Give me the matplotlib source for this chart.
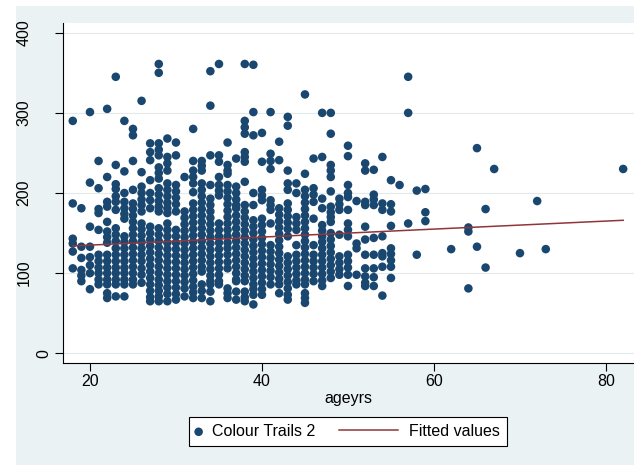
import numpy as np
import matplotlib.pyplot as plt
from matplotlib.patches import Rectangle
from matplotlib.legend_handler import HandlerPathCollection
from matplotlib.transforms import blended_transform_factory, ScaledTranslation

plt.rcParams['font.family'] = ['Liberation Sans', 'DejaVu Sans']

# one column of dots per age (years)
ages = [18, 19, 20, 21, 22, 23, 24, 25, 26, 27, 28, 29, 30, 31, 32, 33, 34,
        35, 36, 37, 38, 39, 40, 41, 42, 43, 44, 45, 46, 47, 48, 49, 50, 51,
        52, 53, 54, 55, 56, 57, 58, 59, 62, 64, 65, 66, 67, 70, 72, 73, 82]

# Colour Trails 2 values (solid bars = overlapping dots)
ct2 = [
    [290, 187, 143, 137, 127, 106],
    [181, 133, 119, 104, 97, 90],
    [301, 213, 158, 133, 120, 110, 100, 80],
    [240, 206, 180, 175, 154, 123, 115, 107, 100, 92, 86],
    [305, 220, 189, 183, 164, 152, 145, 138, 123, 115, 107, 100, 92, 86, 75, 69],
    [345, 235, 211, 205, 196, 189, 179, 156, 148, 140, 131, 123, 115, 107, 100, 92, 86, 71],
    [290, 227, 200, 189, 181, 174, 168, 146, 139, 131, 123, 115, 107, 100, 92, 86, 71],
    [280, 272, 240, 204, 187, 180, 172, 164, 156, 148, 140, 132, 124, 116, 108, 100, 92, 86],
    [315, 226, 208, 200, 192, 185, 177, 162, 155, 147, 139, 131, 123, 115, 106, 98, 88],
    [262, 251, 241, 216, 200, 191, 181, 158, 150, 142, 134, 126, 118, 110, 102, 94, 86, 78, 70, 65],
    [361, 350, 262, 254, 247, 232, 225, 218, 206, 198, 190, 183, 177, 156, 148, 140, 132, 124,
     116, 108, 100, 92, 85, 78, 71, 65],
    [268, 245, 237, 228, 212, 204, 196, 188, 181, 175, 162, 154, 146, 138, 130, 122, 114, 106,
     98, 90, 82, 74, 65],
    [263, 247, 210, 202, 194, 186, 177, 154, 146, 138, 130, 122, 114, 106, 98, 90, 82, 74, 67],
    [220, 177, 169, 161, 153, 145, 137, 129, 121, 113, 105, 97, 89, 81, 71],
    [280, 240, 228, 220, 212, 201, 187, 179, 171, 163, 155, 147, 139, 131, 123, 115, 107, 99,
     91, 83, 76, 69],
    [240, 234, 228, 212, 204, 196, 188, 180, 172, 164, 156, 148, 140, 132, 124, 116, 108, 102,
     86, 78, 69],
    [352, 309, 247, 210, 193, 185, 177, 169, 161, 153, 145, 137, 129, 121, 113, 105, 97, 90,
     86, 77, 65],
    [361, 247, 239, 220, 210, 203, 197, 162, 154, 146, 138, 130, 122, 114, 106, 98, 90, 86],
    [263, 235, 228, 224, 210, 202, 194, 186, 178, 170, 162, 154, 146, 138, 131, 123, 114, 106,
     81, 75, 69],
    [243, 208, 200, 192, 185, 181, 172, 164, 156, 148, 140, 132, 124, 116, 108, 100, 92, 90,
     77, 67],
    [361, 290, 282, 274, 251, 245, 239, 214, 185, 177, 169, 161, 153, 145, 137, 129, 121, 113,
     105, 97, 90, 77, 70, 65],
    [360, 301, 272, 200, 185, 166, 158, 150, 142, 134, 126, 118, 110, 102, 94, 86, 80, 73, 61],
    [275, 239, 204, 197, 191, 168, 160, 152, 144, 136, 128, 120, 112, 104, 96, 88, 80, 73],
    [301, 249, 240, 230, 191, 185, 179, 162, 135, 127, 119, 111, 103, 95, 86],
    [264, 241, 181, 173, 165, 157, 149, 141, 133, 125, 117, 109, 101, 93, 86, 75],
    [295, 284, 228, 212, 204, 187, 179, 171, 163, 155, 146, 121, 113, 105, 97, 89, 81, 73, 67],
    [212, 200, 170, 162, 154, 135, 123, 115, 107, 99, 91, 86],
    [323, 224, 204, 196, 188, 180, 172, 164, 156, 148, 140, 132, 124, 116, 108, 100, 92, 86,
     75, 69, 63],
    [243, 206, 198, 189, 168, 135, 123, 115, 107, 99, 90],
    [300, 245, 193, 181, 160, 153, 146, 139, 131, 123, 115, 107, 99, 91, 84],
    [300, 274, 235, 228, 220, 202, 183, 176, 170, 164, 150, 142, 134, 126, 118, 110, 102, 94],
    [193, 186, 179, 148, 121, 113, 105, 98],
    [259, 246, 210, 200, 195, 179, 162, 154, 146, 123, 115, 107, 98, 84],
    [190, 137, 131, 98],
    [237, 228, 189, 185, 158, 142, 123, 106, 96, 88, 84],
    [229, 198, 192, 185, 144, 123, 106, 95, 84],
    [245, 187, 179, 146, 125, 121, 108, 72],
    [216, 186, 177, 159, 131, 124, 116, 108, 94],
    [210],
    [345, 300, 162],
    [203, 123],
    [205, 176, 165],
    [130],
    [157, 152, 81],
    [256, 133],
    [180, 107],
    [230],
    [125],
    [190],
    [130],
    [230],
]

# linear fit, read at both ends
fit_ages = [18, 82]
fit_vals = [134, 166]

xticks = [20, 40, 60, 80]
yticks = [0, 100, 200, 300, 400]

navy = '#1a476f'
maroon = '#90353b'
bg = '#eaf2f3'
fs = 11.5


class DotHandler(HandlerPathCollection):
    # marker key gets a narrow box, not a line-length one
    def legend_artist(self, legend, orig_handle, fontsize, handlebox):
        handlebox.width = 0.3 * fontsize
        return super().legend_artist(legend, orig_handle, fontsize, handlebox)


def main():
    x = np.repeat(ages, [len(c) for c in ct2])
    y = np.concatenate([np.array(c, dtype=float) for c in ct2])

    fig = plt.figure(figsize=(6.36, 4.65), dpi=100, facecolor='white')
    fig.patches.append(Rectangle((16 / 636, 0), 618 / 636, 459 / 465,
                                 transform=fig.transFigure, facecolor=bg,
                                 edgecolor='none', zorder=-10))
    ax = fig.add_axes([62.7 / 636, 102.3 / 465, 570.8 / 636, 340 / 465])
    ax.set_facecolor('white')

    pts = ax.scatter(x, y, s=38, color=navy, edgecolors='none', zorder=2,
                     label='Colour Trails 2')
    line, = ax.plot(fit_ages, fit_vals, color=maroon, lw=1.1, zorder=3,
                    label='Fitted values')

    ax.set_xlim(16.83, 83.2)
    ax.set_ylim(-11.7, 412.5)
    ax.set_xticks(xticks)
    ax.set_yticks(yticks)
    ax.grid(axis='y', color='#e2eaec', lw=0.8)
    ax.set_axisbelow(True)
    for side in ['top', 'right']:
        ax.spines[side].set_visible(False)
    for side in ['left', 'bottom']:
        ax.spines[side].set_linewidth(0.8)
    ax.tick_params(length=5.5, width=0.8, labelsize=fs, pad=2.5)
    ax.tick_params(axis='y', labelleft=False)

    # stata-style rotated y labels: longer labels sit further left
    base = blended_transform_factory(ax.transAxes, ax.transData)
    for v in yticks:
        s = str(v)
        shift = ScaledTranslation(-(4.4 + 10 * len(s)) / 100, 0, fig.dpi_scale_trans)
        ax.text(0, v, s, transform=base + shift, rotation=90, rotation_mode='anchor',
                ha='center', va='baseline', fontsize=fs)

    ax.set_xlabel('ageyrs', fontsize=fs, labelpad=1.3)

    leg = fig.legend([pts, line], ['Colour Trails 2', 'Fitted values'],
                     handler_map={pts: DotHandler()}, ncol=2, loc='center',
                     bbox_to_anchor=(348 / 636, 33.5 / 465), fontsize=fs,
                     scatterpoints=1, handlelength=3.7, handletextpad=0.7,
                     columnspacing=1.45, borderpad=0.45, fancybox=False,
                     framealpha=1, edgecolor='black')
    leg.get_frame().set_linewidth(0.8)

    fig.savefig('out.png', dpi=100, facecolor=fig.get_facecolor())


if __name__ == '__main__':
    main()
